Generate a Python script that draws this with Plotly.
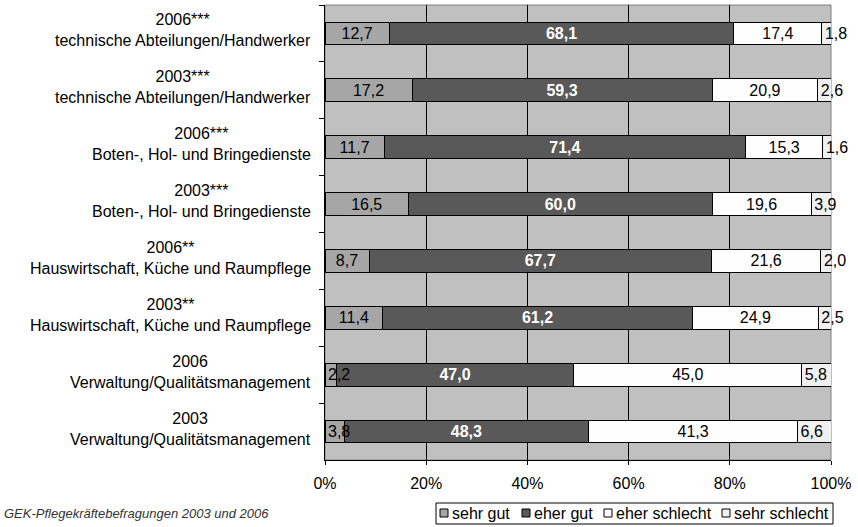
import plotly.graph_objects as go

categories = [
    "2006***<br>technische Abteilungen/Handwerker",
    "2003***<br>technische Abteilungen/Handwerker",
    "2006***<br>Boten-, Hol- und Bringedienste",
    "2003***<br>Boten-, Hol- und Bringedienste",
    "2006**<br>Hauswirtschaft, Küche und Raumpflege",
    "2003**<br>Hauswirtschaft, Küche und Raumpflege",
    "2006<br>Verwaltung/Qualitätsmanagement",
    "2003<br>Verwaltung/Qualitätsmanagement",
]
sehr_gut = [12.7, 17.2, 11.7, 16.5, 8.7, 11.4, 2.2, 3.8]
eher_gut = [68.1, 59.3, 71.4, 60.0, 67.7, 61.2, 47.0, 48.3]
eher_schlecht = [17.4, 20.9, 15.3, 19.6, 21.6, 24.9, 45.0, 41.3]
sehr_schlecht = [1.8, 2.6, 1.6, 3.9, 2.0, 2.5, 5.8, 6.6]

series = [
    ("sehr gut", sehr_gut, "#A6A6A6", "black", "%{text}", "middle"),
    ("eher gut", eher_gut, "#595959", "white", "<b>%{text}</b>", "middle"),
    ("eher schlecht", eher_schlecht, "#FEFEFE", "black", "%{text}", "middle"),
    ("sehr schlecht", sehr_schlecht, "#F0F0F0", "black", "%{text}", "start"),
]

font = "Arial, Liberation Sans, sans-serif"

# plot area in pixels
L, R, T, B = 325, 831, 5, 460
W, H = 858, 527


def px(x):
    return (x - L) / (R - L)


def py(y):
    return (B - y) / (B - T)


def fmt(v):
    return f"{v:.1f}".replace(".", ",")


fig = go.Figure()
for i, (name, vals, color, tcol, tmpl, anchor) in enumerate(series):
    # first segment: labels too wide for the segment start at the left edge
    pos = ["none" if (i == 0 and v < 5) else "inside" for v in vals]
    fig.add_trace(go.Bar(
        y=categories, x=vals, name=name, orientation="h",
        marker=dict(color=color, line=dict(color="black", width=1)),
        text=[fmt(v) for v in vals],
        texttemplate=tmpl, textposition=pos, insidetextanchor=anchor,
        textangle=0, textfont=dict(color=tcol, size=16, family=font),
        width=0.4, cliponaxis=False, showlegend=False,
    ))

for cat, v in zip(categories, sehr_gut):
    if v < 5:
        fig.add_annotation(text=fmt(v), x=0, y=cat, xref="x", yref="y",
                           xanchor="left", yanchor="middle", xshift=1,
                           showarrow=False, font=dict(size=16, color="black"))

# category labels, centred lines
for cat in categories:
    fig.add_annotation(text=cat, x=px(313), y=cat, xref="paper", yref="y",
                       xanchor="right", yanchor="middle", align="center", yshift=3,
                       showarrow=False, font=dict(size=16, color="black"))

fig.update_layout(
    barmode="stack",
    width=W, height=H,
    margin=dict(l=L, r=W - R, t=T, b=H - B, autoexpand=False),
    paper_bgcolor="white", plot_bgcolor="#C0C0C0",
    font=dict(family=font, size=16, color="black"),
    uniformtext=dict(mode="show", minsize=16),
    xaxis=dict(range=[0, 100], tickvals=[0, 20, 40, 60, 80, 100],
               ticktext=["0%", "20%", "40%", "60%", "80%", "100%"],
               showgrid=True, gridcolor="black", gridwidth=1,
               showline=True, linecolor="black", linewidth=1,
               ticks="outside", ticklen=4, tickcolor="black", zeroline=False,
               ticklabelstandoff=5, automargin=False),
    yaxis=dict(autorange="reversed", showline=True, linecolor="black",
               ticks="outside", ticklen=5, tickcolor="black", tickson="boundaries",
               showgrid=False, showticklabels=False, automargin=False),
)

# frame of plot area (top/right)
fig.add_shape(type="rect", xref="paper", yref="paper", x0=0, x1=1, y0=0, y1=1,
              line=dict(color="#808080", width=1), layer="below")

# legend box
legend_names = [s[0] for s in series]
legend_colors = [s[2] for s in series]
sq_x = [440, 522, 604, 722]
txt_x = [450, 532, 614, 732]
fig.add_shape(type="rect", xref="paper", yref="paper",
              x0=px(436), x1=px(833), y0=py(503), y1=py(524),
              line=dict(color="black", width=1), fillcolor="white")
for name, color, sx, tx in zip(legend_names, legend_colors, sq_x, txt_x):
    fig.add_shape(type="rect", xref="paper", yref="paper",
                  x0=px(sx), x1=px(sx + 8), y0=py(509), y1=py(517),
                  line=dict(color="black", width=1), fillcolor=color)
    fig.add_annotation(text=name, xref="paper", yref="paper", x=px(tx), y=py(513.5),
                       xanchor="left", yanchor="middle", showarrow=False,
                       font=dict(size=16, color="black"))

fig.add_annotation(text="<i>GEK-Pflegekräftebefragungen 2003 und 2006</i>",
                   xref="paper", yref="paper", x=px(2), y=py(513.5),
                   xanchor="left", yanchor="middle", showarrow=False,
                   font=dict(size=13, color="#333333"))

fig.write_html("out.html", config={"displayModeBar": False},
               post_script="document.body.style.margin='0';")
